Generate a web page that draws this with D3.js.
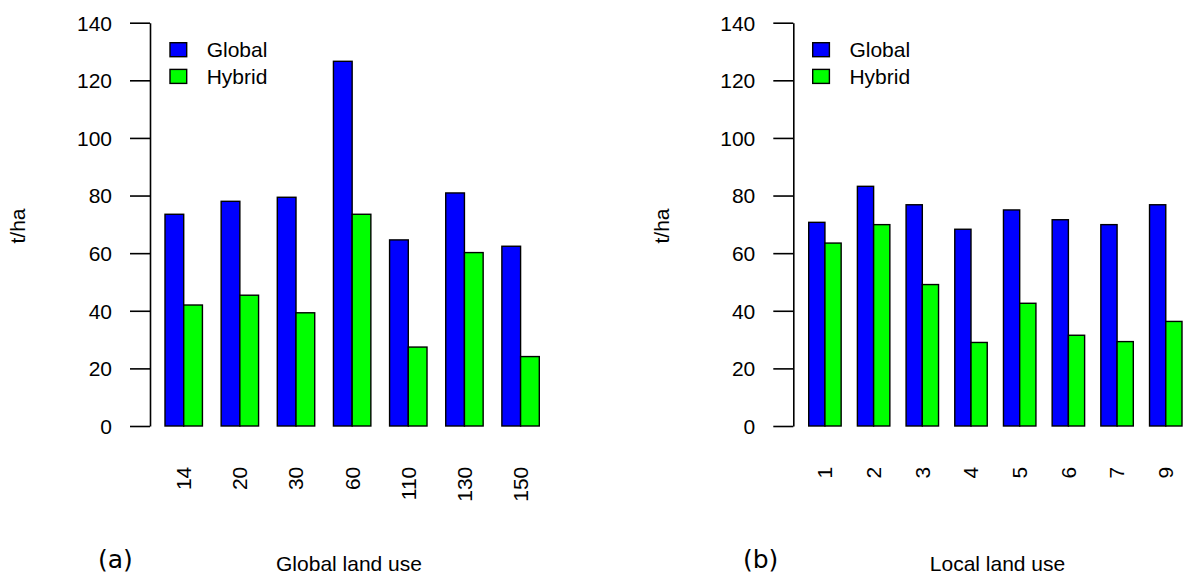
<!DOCTYPE html>
<html>
<head>
<meta charset="utf-8">
<script src="https://cdn.jsdelivr.net/npm/d3@7"></script>
<style>
  html, body { margin: 0; padding: 0; background: #fff; }
  svg { display: block; }
  text { font-family: "Liberation Sans", Arial, Helvetica, sans-serif; fill: #000; }
</style>
</head>
<body>
<svg id="chart" width="1184" height="576"></svg>
<script>
// Panel (a): yield by global land-use class
const globalCategories = ["14", "20", "30", "60", "110", "130", "150"];
const globalSeriesGlobal = [73.5, 78.0, 79.4, 126.6, 64.6, 80.9, 62.4];
const globalSeriesHybrid = [42.0, 45.4, 39.3, 73.5, 27.4, 60.2, 24.1];

// Panel (b): yield by local land-use class
const localCategories = ["1", "2", "3", "4", "5", "6", "7", "9"];
const localSeriesGlobal = [70.7, 83.2, 76.8, 68.3, 75.0, 71.6, 69.9, 76.8];
const localSeriesHybrid = [63.5, 69.9, 49.1, 29.0, 42.6, 31.5, 29.3, 36.3];

const seriesNames = ["Global", "Hybrid"];
const seriesColors = ["#0000ff", "#00ff00"];
const yTicks = [0, 20, 40, 60, 80, 100, 120, 140];
const yLabel = "t/ha";

const svg = d3.select("#chart");
const FS = 21;

function drawPanel(opts) {
  const g = svg.append("g");

  const y = d3.scaleLinear().domain([0, 140]).range([426, 22.7]);

  const x = d3.scaleBand()
    .domain(opts.categories)
    .range([opts.x0, opts.x1])
    .paddingInner(1 / 3)
    .paddingOuter(0);

  const xs = d3.scaleBand()
    .domain(seriesNames)
    .range([0, x.bandwidth()])
    .padding(0);

  // y axis
  const yAxis = d3.axisLeft(y).tickValues(yTicks).tickSize(20).tickPadding(18).tickSizeOuter(0);
  const ax = g.append("g").attr("transform", `translate(${opts.axisX},0)`).call(yAxis);
  ax.select(".domain").attr("stroke", "#000").attr("stroke-width", 1.6);
  ax.selectAll(".tick line").attr("stroke", "#000").attr("stroke-width", 1.6);
  ax.selectAll(".tick text")
    .style("font-family", "'Liberation Sans', Arial, sans-serif")
    .style("font-size", FS + "px")
    .attr("fill", "#000")
    .attr("dy", "0.35em");

  // bars
  const rows = opts.categories.map((c, i) => ({
    cat: c,
    vals: [opts.global[i], opts.hybrid[i]]
  }));

  const grp = g.selectAll(".grp").data(rows).enter().append("g")
    .attr("transform", d => `translate(${x(d.cat)},0)`);

  grp.selectAll("rect")
    .data(d => d.vals.map((v, k) => ({ name: seriesNames[k], v, k })))
    .enter().append("rect")
    .attr("x", d => xs(d.name))
    .attr("width", xs.bandwidth())
    .attr("y", d => y(d.v))
    .attr("height", d => y(0) - y(d.v))
    .attr("fill", d => seriesColors[d.k])
    .attr("stroke", "#000")
    .attr("stroke-width", 1.4);

  // rotated category labels
  g.selectAll(".xlab").data(opts.categories).enter().append("text")
    .attr("transform", d => `translate(${x(d) + x.bandwidth() / 2},466.7) rotate(-90)`)
    .attr("text-anchor", "end")
    .attr("dy", "0.35em")
    .style("font-size", FS + "px")
    .text(d => d);

  // legend
  const leg = g.append("g");
  seriesNames.forEach((n, k) => {
    const cy = 49.7 + k * 26.7;
    leg.append("rect")
      .attr("x", opts.legX).attr("y", cy - 7)
      .attr("width", 16.7).attr("height", 14)
      .attr("fill", seriesColors[k])
      .attr("stroke", "#000").attr("stroke-width", 1.4);
    leg.append("text")
      .attr("x", opts.legX + 36.7).attr("y", cy)
      .attr("dy", "0.35em")
      .style("font-size", FS + "px")
      .text(n);
  });

  // y axis title
  g.append("text")
    .attr("transform", `translate(${opts.yTitleX},226) rotate(-90)`)
    .attr("text-anchor", "middle")
    .attr("dy", "0.35em")
    .style("font-size", FS + "px")
    .text(yLabel);

  // x axis title
  g.append("text")
    .attr("x", opts.xTitleX).attr("y", 571)
    .attr("text-anchor", "middle")
    .style("font-size", FS + "px")
    .text(opts.xTitle);

  // panel tag
  g.append("text")
    .attr("x", opts.tagX).attr("y", 568)
    .style("font-family", "'DejaVu Sans', sans-serif")
    .style("font-size", "25px")
    .text(opts.tag);
}

drawPanel({
  categories: globalCategories,
  global: globalSeriesGlobal,
  hybrid: globalSeriesHybrid,
  x0: 165, x1: 539.3,
  axisX: 150,
  legX: 170,
  yTitleX: 18,
  xTitle: "Global land use",
  xTitleX: 349,
  tag: "(a)",
  tagX: 98
});

drawPanel({
  categories: localCategories,
  global: localSeriesGlobal,
  hybrid: localSeriesHybrid,
  x0: 808.7, x1: 1182,
  axisX: 793.3,
  legX: 812.7,
  yTitleX: 662,
  xTitle: "Local land use",
  xTitleX: 997.5,
  tag: "(b)",
  tagX: 743
});
</script>
</body>
</html>
